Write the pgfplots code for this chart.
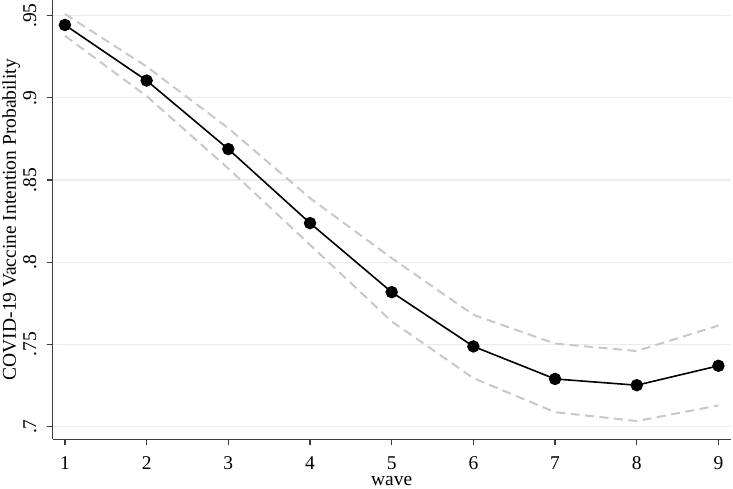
\documentclass[border=0pt]{standalone}
\usepackage{fontspec}
\setmainfont{Liberation Serif}
\usepackage{pgfplots}
\pgfplotsset{compat=1.18}
\definecolor{gridc}{RGB}{228,239,242}
\definecolor{cic}{RGB}{200,200,200}
\definecolor{axc}{RGB}{60,60,60}
\begin{document}
\begin{tikzpicture}
\begin{axis}[
  name=ax,
  scale only axis, width=678pt, height=439.3pt,
  xmin=0.85, xmax=9.15, ymin=0.6923, ymax=0.9595,
  axis lines*=left,
  axis line style={axc, line width=1.2pt},
  xtick={1,2,3,4,5,6,7,8,9},
  ytick={0.7,0.75,0.8,0.85,0.9,0.95},
  yticklabels={.7,.75,.8,.85,.9,.95},
  tick align=outside, major tick length=6pt,
  tick style={axc, line width=1.2pt},
  ymajorgrids, grid style={gridc, line width=1.3pt},
  /pgf/number format/assume math mode=true,
  font=\fontsize{19.5}{23}\selectfont,
  ticklabel style={font=\fontsize{19.5}{23}\selectfont},
  y tick label style={rotate=90, anchor=south, inner sep=3pt, yshift=7pt},
  x tick label style={inner sep=3pt, yshift=-8pt},
  xlabel={wave}, ylabel={COVID-19 Vaccine Intention Probability},
  xlabel style={inner sep=0pt, yshift=-3.5pt},
  ylabel style={inner sep=0pt, yshift=0pt},
  clip=false,
]
\addplot[cic, line width=2pt, dash pattern=on 9pt off 5.5pt] coordinates {
(1,0.951) (2,0.919) (3,0.8815) (4,0.839) (5,0.8025) (6,0.768) (7,0.7505) (8,0.746) (9,0.7615)};
\addplot[cic, line width=2pt, dash pattern=on 9pt off 5.5pt] coordinates {
(1,0.9377) (2,0.901) (3,0.857) (4,0.8106) (5,0.764) (6,0.7295) (7,0.7088) (8,0.7034) (9,0.7129)};
\addplot[black, line width=1.6pt, mark=*, mark size=5.4pt, mark options={fill=black}] coordinates {
(1,0.9443) (2,0.9105) (3,0.8688) (4,0.8238) (5,0.7818) (6,0.7488) (7,0.729) (8,0.7252) (9,0.737)};
\end{axis}
\pgfresetboundingbox
\path ([shift={(-52.7pt,-49.7pt)}]ax.south west) rectangle ([shift={(680.3pt,439.3pt)}]ax.south west);
\end{tikzpicture}
\end{document}
